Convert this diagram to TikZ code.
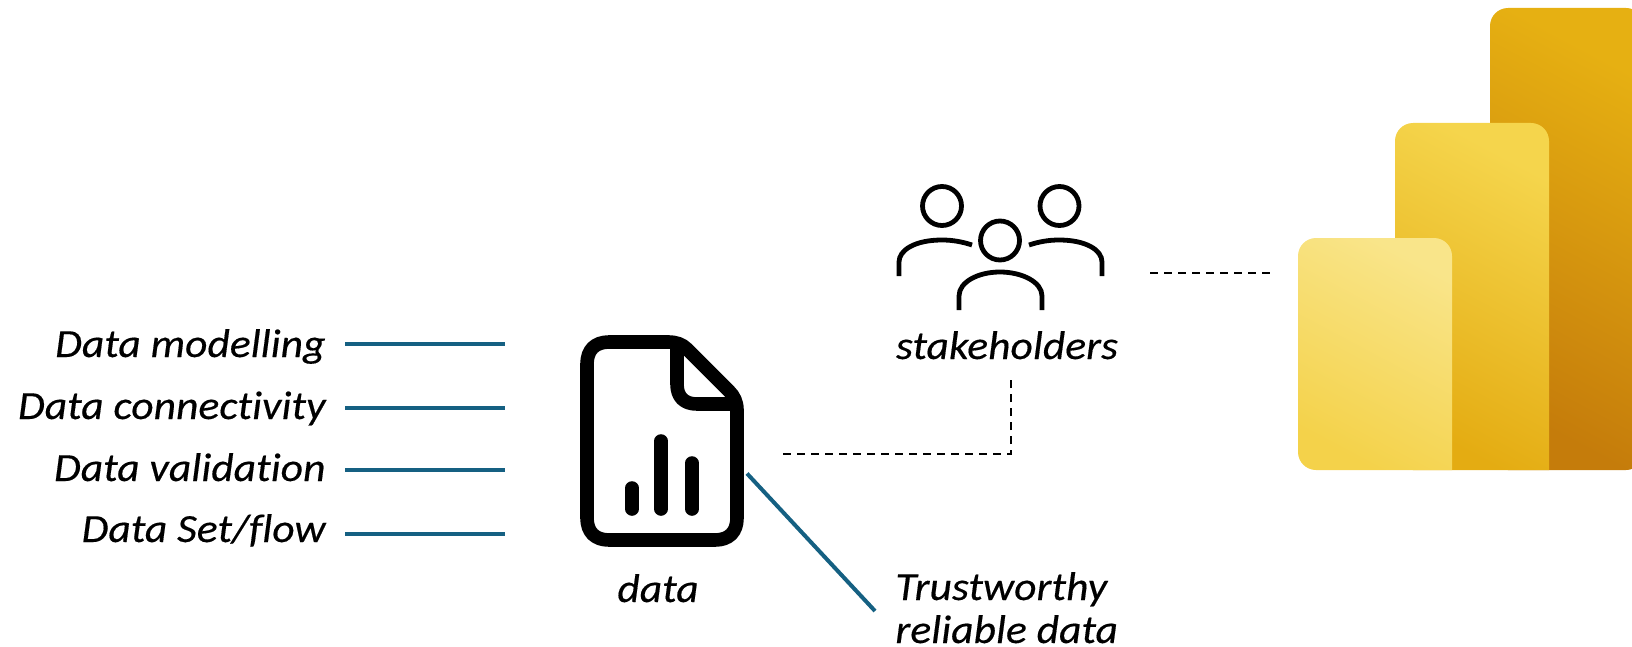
\documentclass[tikz,border=0pt]{standalone}
\usepackage{fontspec}
\setmainfont{Carlito}[ItalicFeatures={FakeStretch=1.09,FakeBold=0.35},Ligatures=NoCommon]
\definecolor{tealc}{HTML}{156082}
\definecolor{ba}{HTML}{E6B012}
\definecolor{bb}{HTML}{C57C0B}
\definecolor{ma}{HTML}{F5D54C}
\definecolor{mb}{HTML}{E4AC12}
\definecolor{fa}{HTML}{F9E58A}
\definecolor{fb}{HTML}{F4D24A}
\tikzset{
  x=0.5pt,y=-0.5pt,
  lbl/.style={font=\fontsize{20}{24}\selectfont\itshape,inner sep=0pt,text=black},
  tealline/.style={draw=tealc,line width=2pt},
  dashline/.style={draw=black,line width=0.8pt,dash pattern=on 4pt off 3pt},
  iconline/.style={draw=black,line width=6.8pt,line join=round},
  barline/.style={draw=black,line width=6.8pt,line cap=round},
  personline/.style={draw=black,line width=2.4pt},
  pback/.style={top color=ba,bottom color=bb,shading angle=-28},
  pmid/.style={top color=ma,bottom color=mb,shading angle=-28},
  pfront/.style={top color=fa,bottom color=fb,shading angle=-28},
}
\begin{document}
\begin{tikzpicture}
\useasboundingbox (0,0) rectangle (1632,647);
% labels
\node[lbl,anchor=base east] (l1) at (326,357) {Data modelling};
\node[lbl,anchor=base east] (l2) at (326,419) {Data connectivity};
\node[lbl,anchor=base east] (l3) at (326,481) {Data validation};
\node[lbl,anchor=base east] (l4) at (326,542) {Data Set/flow};
\node[lbl,anchor=base] (data) at (658,602) {data};
\node[lbl,anchor=base] (stk) at (1007,359) {stakeholders};
\node[lbl,anchor=base west] (tw) at (895,600) {Trustworthy};
\node[lbl,anchor=base west] (rd) at (895,643) {reliable data};
% teal lines
\foreach \n/\y in {a/344,b/407.5,c/470,d/533.5}{
  \coordinate (\n1) at (345,\y);
  \coordinate (\n2) at (505,\y);
  \draw[tealline] (\n1) -- (\n2);
}
\coordinate (t1) at (747,473.5);
\coordinate (t2) at (875,611);
\draw[tealline] (t1) -- (t2);
% dashed
\coordinate (d1) at (783,454);
\coordinate (d2) at (1011,454);
\coordinate (d3) at (1011,380);
\draw[dashline] (d1) -- (d2) -- (d3);
\coordinate (e1) at (1150,273);
\coordinate (e2) at (1271,273);
\draw[dashline] (e1) -- (e2);
% document icon
\draw[iconline] (612,342) -- (668,342) .. controls (676,342) and (682,344) .. (687,349)
  -- (729,391) .. controls (734,396) and (737,402) .. (737,410)
  -- (737,518) .. controls (737,532) and (729,540) .. (715,540)
  -- (609,540) .. controls (595,540) and (587,532) .. (587,518)
  -- (587,364) .. controls (587,350) and (595,342) .. (609,342) -- cycle;
\draw[iconline] (677,342) -- (677,384) .. controls (677,397) and (684,404) .. (697,404) -- (737,404);
\draw[barline] (632,488) -- (632,509);
\draw[barline] (661,441) -- (661,509);
\draw[barline] (692,463) -- (692,509);
% people
\draw[personline] (942,206) circle (19.5);
\draw[personline] (1059.5,206) circle (19.5);
\draw[personline] (1000,240.5) circle (19.5);
\draw[personline] (899,276) -- (899,262) .. controls (899,250) and (915,240) .. (942,240) .. controls (953,240) and (963,242) .. (972,245);
\draw[personline] (1102,276) -- (1102,262) .. controls (1102,250) and (1086,240) .. (1059,240) .. controls (1048,240) and (1038,242) .. (1029,245);
\draw[personline] (959,310) -- (959,296) .. controls (959,282) and (978,272) .. (1000,272) .. controls (1022,272) and (1042,282) .. (1042,296) -- (1042,310);
% logo
\begin{scope}
\clip (0,0) rectangle (1632,647);
\shade[pback,rounded corners=9pt] (1490,8) rectangle (1644,470);
\shade[pmid] (1549,470) [rounded corners=9pt] -- (1395,470) -- (1395,123) -- (1549,123) [sharp corners] -- cycle;
\shade[pfront] (1452,470) [rounded corners=9pt] -- (1298,470) -- (1298,238) -- (1452,238) [sharp corners] -- cycle;
\end{scope}
\end{tikzpicture}
\end{document}
